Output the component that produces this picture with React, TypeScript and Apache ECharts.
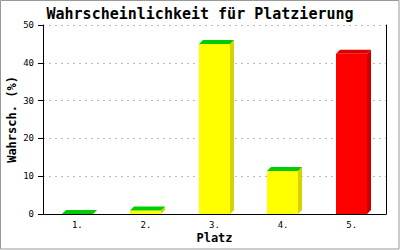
import React, { useEffect, useRef } from "react";
import * as echarts from "echarts";

const categories = ["1.", "2.", "3.", "4.", "5."];
const values = [0, 0.9, 45.0, 11.4, 42.4];
const yTicks = [0, 10, 20, 30, 40, 50];
const highlightIndex = 4;

const FONT = "DejaVu Sans Mono";

export default function App() {
  const ref = useRef<HTMLDivElement>(null);
  useEffect(() => {
    if (!ref.current) return;
    const chart = echarts.init(ref.current, undefined, { renderer: "svg" });
    const depth = 4;
    chart.setOption({
      animation: false,
      backgroundColor: "#ffffff",
      title: {
        text: "Wahrscheinlichkeit für Platzierung",
        left: "center",
        top: 1,
        textStyle: { fontFamily: FONT, fontSize: 15, fontWeight: "bold", color: "#000" },
      },
      grid: { left: 43, right: 14, top: 25, bottom: 36, containLabel: false, outerBoundsMode: "none" },
      xAxis: {
        type: "category",
        data: categories,
        name: "Platz",
        nameLocation: "middle",
        nameGap: 18,
        nameMoveOverlap: false,
        nameTextStyle: { fontFamily: FONT, fontSize: 12, fontWeight: "bold", color: "#000" },
        axisLine: { lineStyle: { color: "#000", width: 1 } },
        axisTick: { show: false },
        axisLabel: { fontFamily: FONT, fontSize: 9, color: "#000", margin: 6 },
      },
      yAxis: [
        {
          type: "value",
          min: yTicks[0],
          max: yTicks[yTicks.length - 1],
          interval: 10,
          name: "Wahrsch. (%)",
          nameLocation: "middle",
          nameGap: 25,
          nameMoveOverlap: false,
          nameRotate: 90,
          nameTextStyle: { fontFamily: FONT, fontSize: 12, fontWeight: "bold", color: "#000" },
          axisLine: { show: true, lineStyle: { color: "#000", width: 1 } },
          axisTick: { show: true, length: 5, lineStyle: { color: "#000" } },
          axisLabel: { fontFamily: FONT, fontSize: 9, color: "#000", margin: 9 },
          splitLine: { show: true, lineStyle: { color: "#bbbbbb", type: [2, 4], width: 1 } },
        },
        {
          type: "value",
          min: 0,
          max: 50,
          interval: 10,
          position: "right",
          axisLine: { show: true, lineStyle: { color: "#000", width: 1 } },
          axisTick: { show: false },
          axisLabel: { show: false },
          splitLine: { show: false },
        },
      ],
      graphic: [
        {
          type: "rect",
          shape: { x: 0.5, y: 0.5, width: 398.5, height: 248.5 },
          style: { fill: "none", stroke: "#999999", lineWidth: 1 },
          silent: true,
        },
      ],
      series: [
        {
          type: "custom",
          data: values.map((v, i) => [i, v]),
          encode: { x: 0, y: 1 },
          renderItem: (params: any, api: any) => {
            const i = api.value(0);
            const v = api.value(1);
            const top = api.coord([i, v]);
            const base = api.coord([i, 0]);
            const band = api.size([1, 0])[0];
            const w = band * 0.455;
            const x0 = Math.round(top[0] - w / 2);
            const x1 = x0 + Math.round(w);
            const yT = top[1];
            const yB = base[1];
            const hi = params.dataIndex === highlightIndex;
            const front = hi ? "#ff0000" : "#ffff00";
            const side = hi ? "#cc0000" : "#d4d400";
            const topC = hi ? "#dd0000" : "#00cc00";
            return {
              type: "group",
              children: [
                {
                  type: "polygon",
                  shape: { points: [[x1, yT], [x1 + depth, yT - depth], [x1 + depth, yB - depth], [x1, yB]] },
                  style: { fill: side },
                },
                {
                  type: "rect",
                  shape: { x: x0, y: yT, width: x1 - x0, height: yB - yT },
                  style: { fill: front },
                },
                {
                  type: "polygon",
                  shape: { points: [[x0, yT], [x0 + depth, yT - depth], [x1 + depth, yT - depth], [x1, yT]] },
                  style: { fill: topC },
                },
              ],
            };
          },
        },
      ],
    });
    return () => chart.dispose();
  }, []);
  return (
    <div
      ref={ref}
      style={{ position: "absolute", left: 0, top: 0, width: 400, height: 250 }}
    />
  );
}
